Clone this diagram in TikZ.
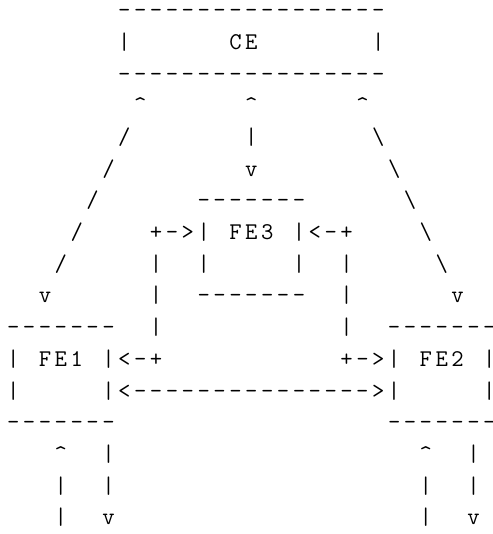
\documentclass[tikz,border=0pt]{standalone}
\usepackage{fontspec}
\newcommand\aCt{\textasciicircum}
\newcommand\aBs{\textbackslash}
\newlength\cellw
\setlength\cellw{15.87pt}
\makeatletter
\newcommand\rowchars[1]{\rowch@i#1\relax\kern-6pt}
\def\rowch@i#1{\ifx#1\relax\else\onecell{#1}\expandafter\rowch@i\fi}
\makeatother
\newcommand\onecell[1]{\makebox[\cellw][c]{\ifx#1.\else#1\fi}}
\tikzset{
  asciirow/.style={anchor=base west, inner sep=0pt, outer sep=0pt,
    font=\ttfamily\fontsize{24}{28}\selectfont, text=black}
}
\begin{document}
\begin{tikzpicture}[x=1pt,y=1pt]
\useasboundingbox (0,0) rectangle (492,534);
\fill[white] (0,0) rectangle (492,534);
\node[asciirow] (r0)  at (5.37,516.40) {\rowchars{....... ----- ----- ----- --}};
\node[asciirow] (r1)  at (5.37,484.69) {\rowchars{....... | ...... CE ..... .. |}};
\node[asciirow] (r2)  at (5.37,452.98) {\rowchars{....... ----- ----- ----- --}};
\node[asciirow] (r3)  at (5.37,421.27) {\rowchars{..... ... \aCt ...... \aCt ...... \aCt}};
\node[asciirow] (r4)  at (5.37,389.56) {\rowchars{..... .. / ..... .. | ..... .. \aBs}};
\node[asciirow] (r5)  at (5.37,357.85) {\rowchars{...... / ..... ... v ..... ... \aBs}};
\node[asciirow] (r6)  at (5.37,326.14) {\rowchars{..... / ...... ------- ...... \aBs}};
\node[asciirow] (r7)  at (5.37,294.43) {\rowchars{.... / .... +->| . FE3 . |<-+ .... \aBs}};
\node[asciirow] (r8)  at (5.37,262.72) {\rowchars{... / ..... |..| ..... |..| ..... \aBs}};
\node[asciirow] (r9)  at (5.37,231.01) {\rowchars{.. v ...... |.. ------- ..| ...... v}};
\node[asciirow] (r10) at (5.37,199.30) {\rowchars{------- .. | ..... ..... . | .. -------}};
\node[asciirow] (r11) at (5.37,167.59) {\rowchars{|.FE1.|<-+ ..... ..... . +->|.FE2.|}};
\node[asciirow] (r12) at (5.37,135.88) {\rowchars{|.....|< ----- ----- ----- >|.....|}};
\node[asciirow] (r13) at (5.37,104.17) {\rowchars{------- ..... ..... ..... .. -------}};
\node[asciirow] (r14) at (5.37,72.46)  {\rowchars{...\aCt..| ..... ..... ..... .... \aCt..|}};
\node[asciirow] (r15) at (5.37,40.75)  {\rowchars{...|..| ..... ..... ..... .... |..|}};
\node[asciirow] (r16) at (5.37,9.04)   {\rowchars{...|..v ..... ..... ..... .... |..v}};
\end{tikzpicture}
\end{document}
